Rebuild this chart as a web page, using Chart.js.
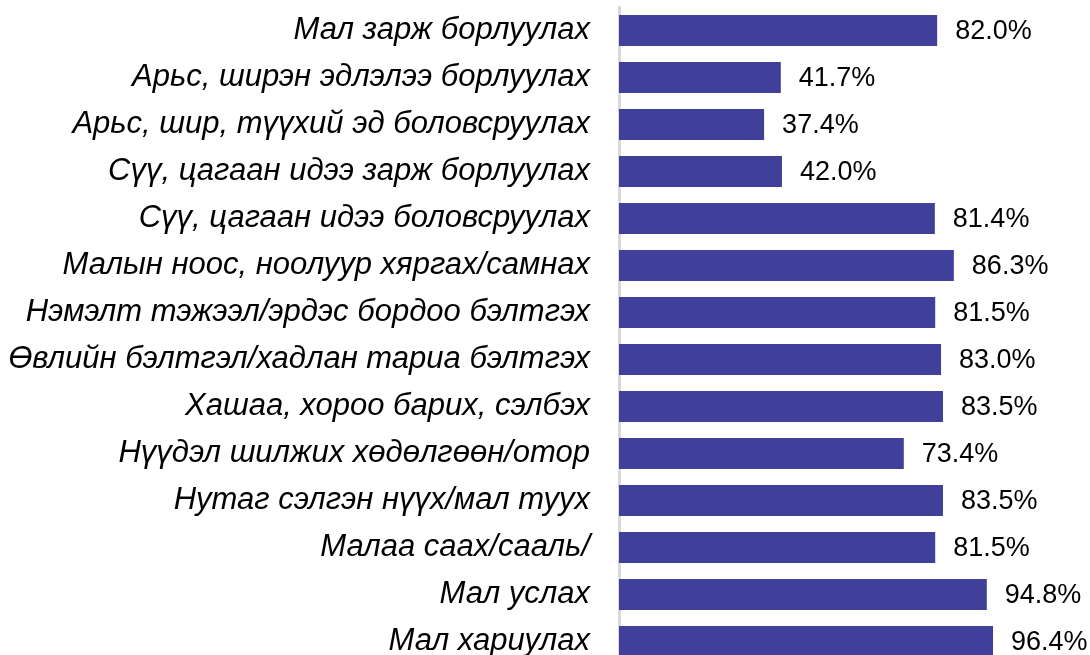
<!DOCTYPE html>
<html lang="mn">
<head>
    <meta charset="UTF-8">
    <title>Chart</title>
    <script src="https://cdn.jsdelivr.net/npm/chart.js"></script>
    <style>
        html, body { margin: 0; padding: 0; background: #fff; overflow: hidden; }
        #wrap { position: absolute; left: 0; top: 0; width: 1090px; height: 668px; }
    </style>
</head>
<body>
    <div id="wrap"><canvas id="myChart" width="1090" height="668"></canvas></div>
    <script>
        // Ангилал ба утгууд (%)
        const categories = [
            'Мал зарж борлуулах',
            'Арьс, ширэн эдлэлээ борлуулах',
            'Арьс, шир, түүхий эд боловсруулах',
            'Сүү, цагаан идээ зарж борлуулах',
            'Сүү, цагаан идээ боловсруулах',
            'Малын ноос, ноолуур хяргах/самнах',
            'Нэмэлт тэжээл/эрдэс бордоо бэлтгэх',
            'Өвлийн бэлтгэл/хадлан тариа бэлтгэх',
            'Хашаа, хороо барих, сэлбэх',
            'Нүүдэл шилжих хөдөлгөөн/отор',
            'Нутаг сэлгэн нүүх/мал туух',
            'Малаа саах/сааль/',
            'Мал услах',
            'Мал хариулах'
        ];
        const values = [82.0, 41.7, 37.4, 42.0, 81.4, 86.3, 81.5, 83.0, 83.5, 73.4, 83.5, 81.5, 94.8, 96.4];

        // утгын шошго баарны баруун талд
        const valueLabels = {
            id: 'valueLabels',
            afterDatasetsDraw(chart) {
                const ctx = chart.ctx;
                const meta = chart.getDatasetMeta(0);
                ctx.save();
                ctx.font = '27px "Liberation Sans", Arial, sans-serif';
                ctx.fillStyle = '#000';
                ctx.textAlign = 'left';
                ctx.textBaseline = 'middle';
                meta.data.forEach((bar, i) => {
                    ctx.fillText(values[i].toFixed(1) + '%', bar.x + 18, bar.y + 1);
                });
                ctx.restore();
            }
        };

        const ctx = document.getElementById('myChart').getContext('2d');
        new Chart(ctx, {
            type: 'bar',
            data: {
                labels: categories,
                datasets: [{
                    data: values,
                    backgroundColor: '#40409A',
                    borderWidth: 0,
                    barPercentage: 0.66,
                    categoryPercentage: 1.0
                }]
            },
            options: {
                indexAxis: 'y',
                responsive: false,
                animation: false,
                devicePixelRatio: 1,
                layout: { padding: { top: 7, bottom: 3, right: 83, left: 0 } },
                plugins: {
                    legend: { display: false },
                    tooltip: { enabled: false }
                },
                scales: {
                    x: {
                        display: false,
                        min: 0,
                        max: 100
                    },
                    y: {
                        afterFit: function(scale) {
                            scale.width = 619;
                            scale.paddingTop = 0;
                            scale.paddingBottom = 0;
                        },
                        grid: { display: false, drawTicks: false },
                        border: { display: true, color: '#D9D9D9', width: 3 },
                        ticks: {
                            padding: 29,
                            color: '#000',
                            font: { family: '"Liberation Sans", Arial, sans-serif', size: 31, style: 'italic' }
                        }
                    }
                }
            },
            plugins: [valueLabels]
        });
    </script>
</body>
</html>
